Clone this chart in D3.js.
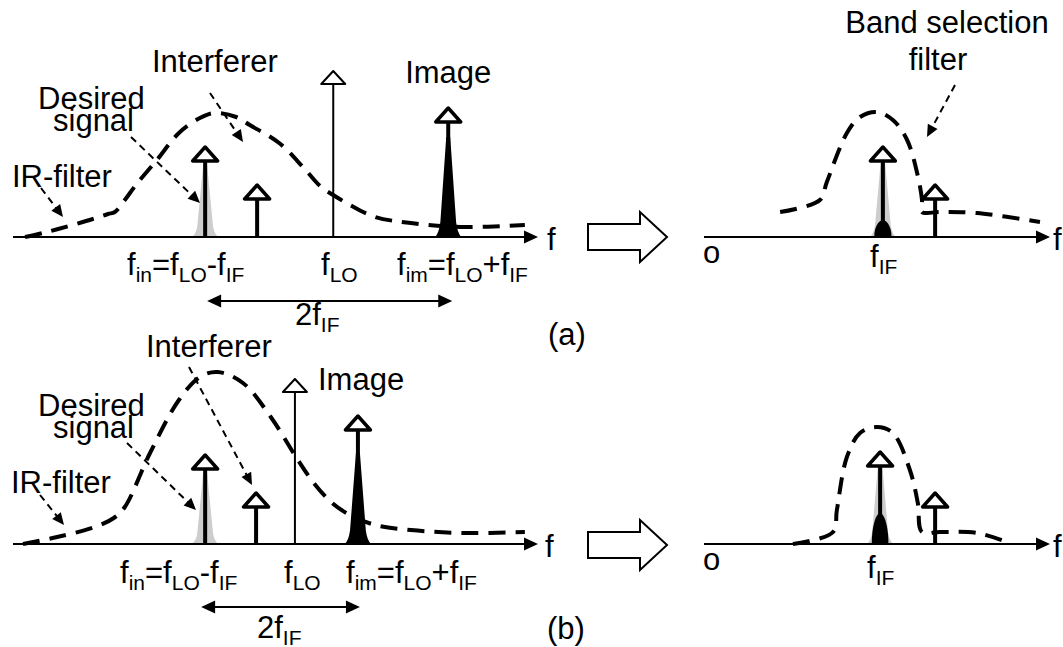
<!DOCTYPE html>
<html>
<head>
<meta charset="utf-8">
<title>Image rejection / band selection</title>
<script src="https://d3js.org/d3.v7.min.js"></script>
<style>
  body { margin: 0; background: #fff; }
  text { font-family: "Liberation Sans", Arial, Helvetica, sans-serif; fill: #000; }
</style>
</head>
<body>
<script>

// ---- data (frequency / amplitude in arbitrary units, 0..100) ----
var stemNames = ["desired", "interferer", "lo", "image"];

var freqA = [36.6, 46.5, 61.0, 82.9];
var ampA  = [45, 26, 83, 64.5];
var freqB = [36.6, 46.3, 53.7, 65.7];
var ampB  = [44.5, 25.5, 82.5, 64];

// IR-filter response
var irFilterA = [[2.3,0],[5.7,2],[8.6,4],[15.2,9],[18.1,11.5],[19.4,12.5],[21.3,18.5],[23.4,26],
  [27.4,38.5],[31.6,52],[35.6,59.5],[38.3,62],[42.5,60],[45.1,56],[50.7,47],[55.4,34.5],
  [58.7,25],[61.0,21],[64.2,16],[69.0,10],[75.8,7],[85.3,5],[97.5,6]];
var irFilterB = [[1.9,0],[8.4,3.5],[15.6,8.5],[19.2,13],[21.3,18.5],[26.1,45.5],[31.6,72],
  [35.6,83.5],[39.0,86],[43.8,80.5],[49.1,63.5],[53.9,43.5],[57.3,30.5],[60.8,20.5],
  [64.2,14.5],[69.0,9.5],[75.8,7],[85.9,5.5],[97.5,6]];

// spectra of signals: [kind, centre, height, half width]
var peaksA = [["gray", 36.6, 36, 2.5], ["black", 82.9, 50, 2.5]];
var peaksB = [["gray", 36.6, 35.5, 2.5], ["black", 65.7, 45.5, 2.5]];

// after down-conversion (IF side)
var ifNames = ["desired", "interferer"];
var ifFreqA = [51.7, 66.8];
var ifAmpA  = [45, 26];
var ifFreqB = [50.9, 66.8];
var ifAmpB  = [46, 25.5];

var bandFilterA = [[22,12.5],[33.5,18.5],[35.5,27.5],[41.3,52],[45.1,60],[50,62.5],[54.6,58.5],
  [58.7,48.5],[61.6,32],[63,18.5],[63,12.5],[68.2,12.5],[78.9,12],[97.1,7.5]];
var bandFilterB = [[25.7,0],[37.3,6],[38.4,17],[41.3,43.5],[45.1,55.5],[50,58.5],[54.6,55.5],
  [59.5,37],[61.8,20.5],[63,6],[68.2,6],[78.9,5.5],[87.6,1]];

var ifPeaksA = [["gray", 51.7, 38.5, 3.8], ["blob", 51.7, 8.5, 2.5]];
var ifPeaksB = [["gray", 50.9, 40.5, 3.8], ["blob", 50.9, 15.5, 2.4]];

// tick labels: [text, isSubscript]
var tickIn = [["f",0],["in",1],["=f",0],["LO",1],["-f",0],["IF",1]];
var tickLO = [["f",0],["LO",1]];
var tickIm = [["f",0],["im",1],["=f",0],["LO",1],["+f",0],["IF",1]];
var tickIF = [["f",0],["IF",1]];
var tick2IF = [["2f",0],["IF",1]];

// ---- drawing ----
var W = 1063, H = 647, FS = 31, SUB = 21;

var svg = d3.select("body").append("svg")
  .attr("width", W).attr("height", H);

function richText(x, y, parts, anchor) {
  var t = svg.append("text").attr("x", x).attr("y", y)
    .attr("font-size", FS).attr("text-anchor", anchor || "start");
  var down = false;
  parts.forEach(function(p) {
    var s = t.append("tspan").text(p[0]);
    if (p[1]) {
      s.attr("font-size", SUB);
      if (!down) { s.attr("dy", 7); down = true; }
    } else if (down) {
      s.attr("dy", -7); down = false;
    }
  });
  return t;
}

function plain(x, y, str, anchor) {
  return svg.append("text").attr("x", x).attr("y", y)
    .attr("font-size", FS).attr("text-anchor", anchor || "start").text(str);
}

function arrowHead(x2, y2, ang, len, half) {
  var c = Math.cos(ang), s = Math.sin(ang);
  var bx = x2 - c * len, by = y2 - s * len;
  return [[x2, y2], [bx - s * half, by + c * half], [bx + s * half, by - c * half]];
}

// dashed pointer with filled head
function pointer(x1, y1, x2, y2) {
  var ang = Math.atan2(y2 - y1, x2 - x1);
  svg.append("line")
    .attr("x1", x1).attr("y1", y1)
    .attr("x2", x2 - Math.cos(ang) * 10).attr("y2", y2 - Math.sin(ang) * 10)
    .attr("stroke", "#000").attr("stroke-width", 2).attr("stroke-dasharray", "7,5");
  svg.append("polygon").attr("points", arrowHead(x2, y2, ang, 12, 5.5).join(" "))
    .attr("fill", "#000");
}

function spikePath(cx, w, h, y0) {
  return "M" + (cx - w) + "," + y0 +
    " Q" + (cx - w * 0.7) + "," + (y0 - h * 0.04) + " " + (cx - w * 0.6) + "," + (y0 - h * 0.15) +
    " L" + (cx - 2) + "," + (y0 - h) + " L" + (cx + 2) + "," + (y0 - h) +
    " L" + (cx + w * 0.6) + "," + (y0 - h * 0.15) +
    " Q" + (cx + w * 0.7) + "," + (y0 - h * 0.04) + " " + (cx + w) + "," + y0 + " Z";
}

function blobPath(cx, w, h, y0) {
  return "M" + (cx - w) + "," + y0 +
    " C" + (cx - w) + "," + (y0 - h * 0.7) + " " + (cx - w * 0.35) + "," + (y0 - h) + " " + cx + "," + (y0 - h) +
    " C" + (cx + w * 0.35) + "," + (y0 - h) + " " + (cx + w) + "," + (y0 - h * 0.7) + " " + (cx + w) + "," + y0 + " Z";
}

function drawPanel(cfg) {
  var x = d3.scaleLinear().domain([0, 100]).range(cfg.xr);
  var y = d3.scaleLinear().domain([0, 100]).range([cfg.y0, cfg.y0 - 200]);
  var g = svg.append("g");

  // signal spectra
  g.selectAll("path.peak").data(cfg.peaks).enter().append("path")
    .attr("class", "peak")
    .attr("d", function(p) {
      var w = x(p[1] + p[3]) - x(p[1]);
      var h = cfg.y0 - y(p[2]);
      return p[0] === "blob" ? blobPath(x(p[1]), w, h, cfg.y0) : spikePath(x(p[1]), w, h, cfg.y0);
    })
    .attr("fill", function(p) { return p[0] === "gray" ? "#cdcdcd" : "#000"; });

  // frequency axis
  var xEnd = cfg.xr[1];
  g.append("line").attr("x1", cfg.xr[0]).attr("x2", xEnd - 10)
    .attr("y1", cfg.y0).attr("y2", cfg.y0)
    .attr("stroke", "#000").attr("stroke-width", 2);
  g.append("polygon").attr("points", arrowHead(xEnd, cfg.y0, 0, 14, 6.5).join(" ")).attr("fill", "#000");

  // filter response
  g.append("path").datum(cfg.curve)
    .attr("d", d3.line().x(function(d) { return x(d[0]); }).y(function(d) { return y(d[1]); })
      .curve(d3.curveCatmullRom.alpha(0.5)))
    .attr("fill", "none").attr("stroke", "#000").attr("stroke-width", 4)
    .attr("stroke-dasharray", "17,10");

  // impulses
  cfg.freq.forEach(function(f, i) {
    var thin = cfg.names[i] === "lo";
    var sx = x(f), tip = y(cfg.amp[i]);
    var hh = thin ? 13 : 14, hw = thin ? 12 : 12.5;
    g.append("line").attr("x1", sx).attr("x2", sx).attr("y1", cfg.y0).attr("y2", tip + hh)
      .attr("stroke", "#000").attr("stroke-width", thin ? 2 : 4);
    g.append("polygon")
      .attr("points", [[sx, tip], [sx - hw, tip + hh], [sx + hw, tip + hh]].join(" "))
      .attr("fill", "#fff").attr("stroke", "#000").attr("stroke-width", thin ? 2 : 3.5)
      .attr("stroke-linejoin", "round");
  });

  return { x: x, y: y };
}

function bigArrow(yc) {
  var pts = [[588, yc - 13], [640, yc - 13], [640, yc - 25], [667, yc], [640, yc + 25], [640, yc + 13], [588, yc + 13]];
  svg.append("polygon").attr("points", pts.join(" "))
    .attr("fill", "#fff").attr("stroke", "#000").attr("stroke-width", 2);
}

function doubleArrow(xa, xb, yy) {
  svg.append("line").attr("x1", xa + 12).attr("x2", xb - 12).attr("y1", yy).attr("y2", yy)
    .attr("stroke", "#000").attr("stroke-width", 2);
  svg.append("polygon").attr("points", arrowHead(xb, yy, 0, 14, 6.5).join(" ")).attr("fill", "#000");
  svg.append("polygon").attr("points", arrowHead(xa, yy, Math.PI, 14, 6.5).join(" ")).attr("fill", "#000");
}

// ---------- (a) ----------
var pA = drawPanel({ xr: [13, 538], y0: 237, curve: irFilterA, peaks: peaksA,
  freq: freqA, amp: ampA, names: stemNames });
plain(152, 72, "Interferer");
plain(pA.x(freqA[3]), 83, "Image", "middle");
plain(38, 109, "Desired");
plain(53, 131, "signal");
plain(12, 187, "IR-filter");
pointer(131, 137, 200, 203);
pointer(210, 93, 243, 142);
pointer(41, 188, 63, 217);
richText(127, 275, tickIn);
richText(321, 275, tickLO);
richText(397, 275, tickIm);
plain(547, 250, "f");
doubleArrow(pA.x(freqA[0]) + 2, pA.x(freqA[3]) + 4, 301);
richText(295, 325, tick2IF);
plain(548, 345, "(a)");

bigArrow(237);
var rA = drawPanel({ xr: [704, 1050], y0: 237, curve: bandFilterA, peaks: ifPeaksA,
  freq: ifFreqA, amp: ifAmpA, names: ifNames });
plain(703, 263, "o");
richText(870, 267, tickIF);
plain(1053, 250, "f");
plain(947, 33, "Band selection", "middle");
plain(938, 70, "filter", "middle");
pointer(955, 85, 927, 137);

// ---------- (b) ----------
var pB = drawPanel({ xr: [13, 538], y0: 544, curve: irFilterB, peaks: peaksB,
  freq: freqB, amp: ampB, names: stemNames });
plain(146, 357, "Interferer");
plain(318, 390, "Image");
plain(38, 416, "Desired");
plain(53, 438, "signal");
plain(11, 493, "IR-filter");
pointer(127, 443, 196, 510);
pointer(189, 367, 252, 485);
pointer(40, 495, 64, 525);
richText(120, 583, tickIn);
richText(284, 583, tickLO);
richText(346, 583, tickIm);
plain(545, 557, "f");
doubleArrow(pB.x(freqB[0]) - 4, pB.x(freqB[3]) + 2, 607);
richText(257, 638, tick2IF);
plain(547, 639, "(b)");

bigArrow(545);
var rB = drawPanel({ xr: [704, 1050], y0: 544, curve: bandFilterB, peaks: ifPeaksB,
  freq: ifFreqB, amp: ifAmpB, names: ifNames });
plain(703, 570, "o");
richText(867, 578, tickIF);
plain(1053, 557, "f");

</script>
</body>
</html>
